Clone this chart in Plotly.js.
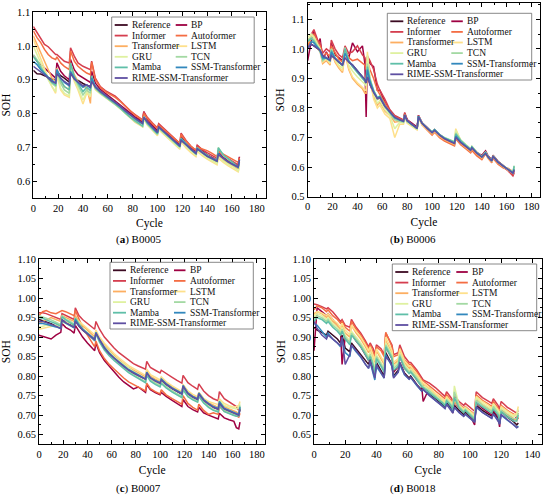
<!DOCTYPE html>
<html>
<head>
<meta charset="utf-8">
<script src="https://cdn.plot.ly/plotly-3.0.1.min.js"></script>
<style>html,body{margin:0;padding:0;background:#fff;}#chart{width:550px;height:498px;}</style>
</head>
<body>
<div id="chart"></div>
<script>
// ---------- names / colours ----------
const seriesNames = ["Reference","BP","Informer","Autoformer","Transformer","LSTM","GRU","TCN","Mamba","SSM-Transformer","RIME-SSM-Transformer"];
const seriesColors = ["#3b0a22","#9e0142","#d53e4f","#f46d43","#fdae61","#fee08b","#dff1a0","#a3d9a3","#5fbfa8","#3288bd","#5e4fa2"];
const panelTitles = ["(<b>a</b>) B0005","(<b>b</b>) B0006","(<b>c</b>) B0007","(<b>d</b>) B0018"];
const xTickVals = [0,20,40,60,80,100,120,140,160,180];

// ---------- (a) B0005 ----------
const cyclesA = [0,3,6,9,12,15,18,19,22,25,29,30,33,36,40,43,46,47,50,54,58,62,66,70,74,78,82,86,88,89,92,96,100,101,105,110,114,118,119,123,127,131,132,136,140,144,148,149,153,157,161,165,166];
const a_Reference = [.928,.918,.917,.912,.907,.902,.900,.925,.912,.905,.893,.918,.905,.897,.889,.884,.880,.898,.880,.866,.855,.845,.833,.822,.810,.797,.787,.777,.772,.790,.775,.760,.745,.762,.748,.732,.718,.705,.722,.708,.695,.683,.697,.685,.675,.668,.660,.680,.668,.658,.650,.643,.665];
const a_BP = [.972,.955,.945,.935,.925,.915,.905,.950,.925,.912,.900,.960,.930,.915,.905,.900,.892,.925,.890,.872,.860,.850,.838,.826,.814,.800,.790,.782,.776,.806,.782,.765,.750,.768,.752,.736,.722,.708,.732,.712,.698,.686,.705,.690,.678,.670,.662,.684,.670,.660,.652,.646,.672];
const a_Informer = [1.058,1.040,1.025,1.005,.998,.985,.975,.975,.965,.955,.950,.995,.970,.950,.940,.935,.930,.955,.905,.880,.868,.860,.852,.838,.823,.808,.797,.787,.781,.805,.788,.772,.757,.770,.756,.740,.726,.712,.742,.720,.703,.690,.706,.693,.684,.676,.667,.690,.676,.666,.657,.648,.670];
const a_Autoformer = [1.045,1.025,1.010,.990,.975,.965,.960,.968,.950,.940,.930,.985,.955,.940,.928,.920,.915,.952,.900,.878,.865,.857,.848,.836,.822,.807,.795,.785,.779,.800,.785,.770,.755,.766,.752,.737,.724,.712,.738,.718,.703,.692,.700,.695,.690,.682,.672,.688,.680,.672,.665,.655,.668];
const a_Transformer = [1.030,1.005,.975,.955,.925,.905,.895,.935,.895,.880,.870,.950,.915,.895,.880,.878,.830,.900,.875,.862,.852,.843,.832,.820,.806,.792,.782,.773,.768,.792,.770,.756,.742,.760,.745,.728,.714,.702,.725,.705,.690,.678,.695,.682,.670,.662,.655,.675,.662,.652,.645,.636,.655];
const a_LSTM = [1.020,.990,.960,.930,.905,.880,.860,.915,.870,.855,.848,.935,.895,.870,.828,.860,.850,.900,.870,.858,.848,.838,.826,.814,.800,.786,.774,.765,.760,.783,.765,.750,.734,.752,.738,.720,.705,.694,.716,.698,.684,.672,.688,.675,.665,.656,.648,.668,.655,.645,.637,.627,.640];
const a_GRU = [1.000,.975,.950,.920,.900,.880,.865,.920,.875,.860,.852,.940,.900,.875,.840,.865,.852,.905,.872,.860,.849,.839,.828,.816,.802,.788,.777,.767,.762,.786,.767,.752,.737,.755,.740,.723,.709,.697,.720,.702,.688,.676,.692,.679,.668,.660,.652,.672,.659,.649,.641,.630,.645];
const a_TCN = [.975,.960,.940,.920,.905,.890,.880,.925,.890,.870,.860,.945,.905,.885,.855,.870,.860,.910,.874,.860,.849,.838,.827,.815,.801,.787,.776,.767,.762,.788,.768,.753,.738,.757,.743,.726,.712,.700,.725,.707,.692,.680,.696,.684,.674,.666,.660,.700,.676,.664,.654,.640,.652];
const a_Mamba = [.968,.955,.935,.918,.905,.892,.885,.930,.900,.880,.870,.950,.910,.890,.865,.878,.868,.912,.876,.862,.850,.840,.829,.817,.803,.789,.778,.768,.763,.790,.770,.755,.740,.758,.745,.728,.714,.702,.727,.709,.694,.682,.698,.686,.676,.668,.662,.698,.678,.666,.656,.642,.655];
const a_SSM = [.955,.945,.930,.918,.908,.898,.890,.930,.905,.892,.882,.925,.905,.892,.878,.885,.875,.905,.880,.866,.855,.845,.833,.821,.808,.795,.784,.774,.770,.790,.773,.758,.743,.760,.746,.730,.716,.703,.724,.707,.693,.681,.696,.684,.673,.666,.658,.682,.667,.656,.648,.640,.662];
const a_RIME = [.940,.932,.925,.915,.905,.895,.890,.918,.905,.895,.885,.920,.902,.893,.882,.885,.878,.895,.878,.865,.854,.844,.832,.821,.808,.796,.786,.776,.771,.788,.774,.759,.744,.760,.747,.731,.717,.704,.720,.707,.694,.682,.695,.684,.674,.667,.659,.678,.667,.657,.649,.642,.663];

// ---------- (b) B0006 ----------
const cyclesB = [0,3,5,8,10,12,15,18,19,22,25,28,30,33,36,40,44,46,47,48,50,53,56,58,62,66,70,74,77,78,80,84,88,89,92,96,100,102,106,110,114,118,119,123,127,131,132,136,140,143,145,148,149,153,157,161,165,166];
const b_Reference = [1.005,1.015,1.01,1.0,.995,.975,.968,.96,.98,.965,.955,.945,.975,.955,.945,.925,.905,.895,.880,.915,.880,.850,.830,.835,.805,.785,.768,.760,.755,.778,.758,.745,.732,.772,.748,.732,.716,.725,.708,.696,.688,.680,.702,.683,.670,.657,.666,.648,.635,.648,.635,.622,.638,.618,.605,.593,.580,.592];
const b_BP = [.96,1.03,1.06,1.0,1.035,.96,.99,.96,1.02,.98,.97,.96,1.0,.97,1.02,.99,1.01,.95,.77,.97,.95,.94,.86,.86,.82,.79,.772,.765,.758,.782,.76,.748,.735,.775,.75,.735,.718,.727,.71,.698,.69,.682,.705,.685,.672,.66,.668,.65,.64,.655,.638,.625,.64,.62,.606,.592,.575,.586];
const b_Informer = [1.0,1.05,1.065,1.03,1.02,.985,1.0,.99,1.03,1.0,.98,.97,1.01,.985,.99,1.01,.98,.97,.95,.975,.96,.93,.88,.86,.83,.795,.775,.765,.76,.785,.76,.745,.732,.775,.748,.73,.712,.722,.705,.692,.684,.676,.7,.68,.665,.652,.66,.642,.628,.652,.635,.62,.635,.615,.6,.588,.57,.58];
const b_Autoformer = [1.01,1.04,1.05,1.02,1.01,.975,.985,.975,1.01,.985,.965,.955,.995,.97,.96,.965,.95,.945,.93,.96,.93,.9,.86,.845,.815,.788,.77,.762,.756,.78,.755,.742,.728,.77,.744,.726,.708,.718,.7,.688,.68,.672,.696,.676,.662,.648,.656,.638,.625,.645,.63,.615,.63,.61,.598,.596,.585,.59];
const b_Transformer = [1.02,1.035,1.03,1.0,.99,.95,.96,.945,.99,.955,.935,.92,.985,.93,.9,.88,.865,.85,.85,.93,.89,.84,.81,.82,.79,.775,.752,.755,.75,.775,.752,.74,.727,.768,.742,.727,.712,.72,.703,.692,.684,.676,.7,.68,.666,.653,.662,.644,.63,.646,.632,.618,.634,.614,.602,.59,.578,.59];
const b_LSTM = [1.03,1.045,1.04,1.01,1.0,.955,.965,.95,.995,.96,.94,.925,.99,.935,.905,.885,.87,.86,.86,.99,.9,.83,.80,.81,.78,.765,.70,.745,.745,.77,.748,.738,.726,.77,.745,.73,.716,.724,.707,.697,.69,.684,.73,.69,.674,.66,.668,.648,.633,.648,.632,.62,.636,.616,.603,.592,.58,.6];
const b_GRU = [1.04,1.05,1.04,1.015,1.0,.96,.97,.955,1.0,.965,.945,.935,.995,.945,.925,.905,.89,.88,.875,.98,.905,.85,.815,.825,.795,.775,.73,.752,.75,.775,.752,.74,.728,.772,.747,.732,.718,.726,.709,.699,.692,.686,.725,.692,.676,.662,.67,.65,.635,.65,.635,.622,.638,.618,.605,.594,.582,.602];
const b_TCN = [1.03,1.04,1.03,1.01,.995,.96,.97,.96,1.0,.97,.955,.945,1.005,.96,.94,.92,.9,.89,.885,.95,.9,.86,.83,.835,.805,.782,.76,.755,.752,.774,.754,.742,.73,.772,.748,.733,.719,.727,.71,.7,.692,.686,.716,.692,.676,.662,.67,.65,.636,.65,.636,.622,.638,.618,.605,.594,.583,.605];
const b_Mamba = [1.025,1.035,1.025,1.005,.99,.965,.97,.962,.995,.97,.955,.945,1.0,.96,.94,.92,.9,.89,.885,.94,.895,.86,.835,.84,.808,.785,.765,.758,.754,.776,.756,.743,.73,.772,.748,.733,.719,.727,.71,.699,.691,.684,.712,.69,.674,.66,.668,.648,.634,.649,.635,.621,.637,.617,.604,.593,.582,.603];
const b_SSM = [1.0,1.025,1.02,1.005,.995,.97,.968,.96,.99,.968,.955,.945,.985,.958,.945,.925,.905,.895,.885,.93,.89,.855,.833,.838,.807,.786,.768,.76,.755,.777,.757,.744,.731,.773,.748,.732,.717,.726,.709,.697,.689,.681,.705,.685,.671,.658,.667,.648,.634,.648,.634,.621,.637,.617,.604,.592,.58,.593];
const b_RIME = [1.005,1.015,1.01,1.0,.995,.978,.97,.962,.978,.965,.955,.945,.97,.955,.945,.925,.905,.895,.885,.905,.88,.852,.832,.835,.806,.785,.768,.76,.755,.775,.757,.744,.731,.77,.747,.731,.716,.724,.708,.696,.688,.68,.7,.683,.67,.657,.665,.647,.634,.646,.634,.621,.636,.617,.604,.592,.58,.59];

// ---------- (c) B0007 ----------
const cyclesC = [0,3,6,10,14,18,19,22,26,29,30,33,36,40,44,46,47,50,54,58,62,66,70,74,78,82,86,88,89,92,96,100,101,105,110,114,118,119,123,127,131,132,136,140,144,148,149,153,157,161,163,165,166];
const c_Reference = [.945,.942,.938,.934,.928,.922,.945,.938,.932,.925,.942,.928,.918,.908,.898,.893,.912,.892,.872,.857,.845,.835,.825,.815,.808,.801,.795,.792,.810,.795,.787,.781,.790,.779,.768,.760,.754,.775,.755,.746,.740,.755,.738,.728,.720,.715,.732,.716,.710,.706,.702,.700,.716];
const c_BP = [.905,.902,.898,.895,.905,.912,.935,.925,.918,.91,.93,.915,.9,.885,.87,.865,.885,.86,.84,.825,.81,.797,.785,.775,.767,.772,.762,.758,.778,.765,.758,.752,.758,.748,.738,.73,.722,.74,.722,.714,.708,.72,.706,.7,.695,.69,.705,.693,.688,.684,.668,.665,.682];
const c_Informer = [.962,.962,.96,.955,.95,.945,.96,.955,.95,.945,.975,.955,.945,.935,.925,.92,.94,.92,.9,.885,.872,.86,.85,.84,.832,.826,.82,.818,.838,.822,.815,.808,.815,.806,.797,.789,.782,.802,.783,.774,.766,.78,.762,.75,.742,.737,.76,.742,.734,.728,.722,.712,.71];
const c_Autoformer = [.955,.965,.968,.962,.96,.965,.968,.965,.96,.955,.968,.945,.925,.905,.885,.875,.89,.865,.845,.83,.818,.806,.795,.785,.778,.771,.765,.762,.782,.768,.76,.754,.765,.752,.742,.735,.728,.75,.73,.72,.713,.728,.712,.702,.706,.702,.722,.71,.704,.7,.698,.695,.705];
const c_Transformer = [.935,.94,.945,.95,.945,.94,.955,.95,.945,.94,.955,.94,.93,.918,.905,.9,.915,.898,.88,.865,.853,.842,.832,.822,.815,.808,.801,.798,.815,.8,.792,.786,.795,.784,.773,.765,.758,.778,.76,.75,.744,.758,.742,.732,.725,.72,.738,.722,.716,.712,.708,.704,.72];
const c_LSTM = [.92,.922,.925,.928,.93,.93,.94,.938,.935,.93,.945,.94,.932,.922,.912,.906,.918,.9,.884,.87,.858,.847,.837,.827,.82,.812,.806,.802,.818,.804,.797,.79,.798,.786,.775,.767,.76,.778,.762,.753,.747,.758,.743,.735,.73,.727,.742,.73,.724,.72,.722,.725,.735];
const c_GRU = [.925,.928,.93,.93,.928,.925,.94,.935,.93,.925,.94,.93,.922,.912,.9,.895,.91,.893,.876,.862,.85,.84,.83,.82,.812,.805,.798,.794,.81,.794,.786,.778,.785,.772,.762,.752,.745,.765,.748,.74,.734,.748,.732,.724,.72,.718,.738,.725,.72,.717,.716,.72,.73];
const c_TCN = [.955,.952,.948,.944,.938,.932,.955,.946,.94,.932,.95,.935,.922,.91,.898,.893,.912,.89,.87,.855,.843,.832,.822,.812,.804,.797,.79,.786,.805,.79,.782,.775,.784,.773,.762,.754,.748,.768,.75,.742,.736,.752,.734,.722,.714,.71,.728,.712,.706,.702,.7,.702,.725];
const c_Mamba = [.95,.948,.944,.94,.934,.928,.952,.944,.937,.93,.948,.932,.92,.908,.895,.89,.908,.887,.867,.852,.84,.829,.819,.809,.801,.794,.787,.783,.802,.787,.779,.772,.781,.77,.759,.751,.745,.765,.747,.739,.733,.748,.731,.72,.712,.708,.725,.709,.703,.699,.697,.698,.722];
const c_SSM = [.935,.935,.933,.93,.926,.922,.942,.936,.93,.924,.945,.93,.92,.91,.9,.895,.912,.893,.874,.859,.847,.837,.827,.817,.81,.803,.797,.793,.81,.796,.789,.783,.793,.781,.77,.762,.756,.776,.757,.748,.742,.757,.74,.73,.722,.717,.735,.718,.712,.708,.704,.702,.72];
const c_RIME = [.94,.94,.937,.933,.928,.922,.944,.937,.931,.925,.94,.928,.918,.908,.898,.893,.91,.892,.872,.857,.845,.835,.825,.815,.808,.801,.795,.792,.808,.795,.787,.781,.79,.779,.768,.76,.754,.774,.755,.746,.74,.754,.738,.728,.72,.715,.73,.716,.71,.706,.702,.7,.714];

// ---------- (d) B0018 ----------
const cyclesD = [0,2,5,8,9,12,15,17,18,20,23,24,27,30,33,35,36,38,39,40,43,45,46,49,50,51,54,55,58,61,62,66,69,70,74,78,82,84,85,88,89,90,93,96,97,100,103,104,108,112,114,115,118,119,120,124,128,130,131];
const d_Reference = [.925,.918,.912,.905,.915,.905,.895,.885,.905,.872,.862,.885,.87,.855,.84,.83,.845,.815,.80,.835,.815,.80,.86,.84,.83,.80,.815,.835,.808,.795,.80,.778,.765,.775,.755,.742,.73,.722,.732,.718,.712,.725,.712,.702,.708,.697,.688,.725,.712,.702,.698,.708,.692,.685,.71,.695,.683,.675,.68];
const d_BP = [.865,.975,.965,.955,.96,.945,.93,.915,.83,.9,.885,.91,.89,.875,.855,.84,.86,.825,.81,.85,.83,.815,.875,.855,.845,.81,.825,.85,.82,.81,.815,.79,.775,.735,.77,.752,.738,.73,.74,.724,.705,.735,.718,.708,.715,.7,.675,.732,.718,.705,.7,.712,.695,.67,.715,.7,.688,.695,.69];
const d_Informer = [.985,.983,.978,.972,.975,.965,.95,.94,.945,.93,.925,.945,.925,.91,.89,.875,.885,.87,.855,.88,.87,.855,.91,.89,.88,.855,.86,.88,.85,.835,.835,.815,.795,.79,.782,.77,.755,.748,.76,.744,.735,.75,.735,.725,.73,.72,.71,.76,.745,.735,.73,.742,.725,.715,.735,.72,.71,.705,.712];
const d_Autoformer = [.97,.98,.975,.965,.97,.955,.945,.935,.94,.925,.915,.94,.92,.905,.885,.87,.88,.862,.85,.875,.865,.85,.912,.885,.875,.85,.855,.872,.842,.83,.83,.81,.79,.788,.775,.762,.75,.742,.752,.737,.728,.742,.728,.718,.722,.712,.702,.752,.738,.728,.722,.735,.718,.705,.725,.712,.702,.698,.705];
const d_Transformer = [.96,.965,.96,.95,.955,.94,.93,.92,.93,.91,.9,.93,.91,.895,.875,.86,.87,.85,.835,.865,.845,.83,.89,.87,.86,.83,.84,.865,.835,.82,.822,.8,.782,.78,.768,.752,.74,.732,.745,.73,.72,.735,.72,.71,.715,.705,.694,.742,.728,.718,.712,.725,.708,.696,.716,.703,.692,.686,.695];
const d_LSTM = [.955,.965,.962,.955,.96,.945,.935,.925,.935,.918,.905,.93,.915,.9,.88,.865,.875,.855,.84,.87,.85,.835,.9,.875,.865,.835,.845,.87,.84,.825,.825,.805,.788,.782,.77,.755,.743,.735,.748,.734,.725,.74,.726,.716,.72,.71,.7,.748,.735,.725,.718,.73,.714,.702,.722,.71,.7,.705,.722];
const d_GRU = [.95,.96,.955,.945,.95,.935,.925,.915,.925,.905,.89,.915,.9,.885,.865,.85,.862,.84,.815,.855,.835,.82,.885,.865,.855,.825,.835,.86,.83,.815,.818,.798,.78,.775,.765,.75,.738,.73,.742,.73,.72,.775,.725,.712,.718,.706,.696,.745,.73,.72,.714,.728,.71,.698,.718,.706,.696,.7,.715];
const d_TCN = [.945,.955,.95,.94,.945,.93,.92,.91,.92,.9,.885,.91,.895,.88,.86,.845,.855,.83,.805,.85,.83,.815,.88,.86,.85,.82,.83,.855,.825,.81,.814,.795,.777,.772,.762,.748,.735,.727,.74,.727,.717,.76,.722,.71,.715,.703,.692,.738,.725,.715,.71,.722,.705,.692,.712,.7,.69,.692,.705];
const d_Mamba = [.94,.95,.945,.935,.94,.925,.915,.905,.915,.895,.88,.905,.89,.875,.855,.84,.85,.825,.80,.845,.825,.81,.875,.855,.845,.815,.825,.85,.82,.806,.81,.79,.772,.77,.758,.745,.732,.724,.736,.723,.714,.745,.718,.706,.712,.7,.688,.732,.72,.71,.705,.716,.7,.686,.708,.695,.685,.685,.7];
const d_SSM = [.935,.93,.915,.9,.91,.895,.885,.875,.895,.86,.85,.878,.862,.848,.83,.82,.835,.805,.79,.825,.808,.795,.855,.835,.825,.798,.81,.83,.803,.792,.796,.775,.762,.765,.75,.737,.725,.717,.728,.714,.706,.72,.707,.697,.702,.691,.682,.72,.707,.697,.692,.703,.687,.677,.7,.687,.676,.668,.672];
const d_RIME = [.94,.922,.905,.895,.905,.895,.885,.878,.9,.83,.855,.88,.865,.85,.83,.82,.84,.805,.795,.83,.81,.795,.85,.835,.825,.795,.81,.835,.805,.792,.797,.776,.762,.766,.75,.737,.725,.717,.728,.713,.705,.72,.707,.697,.703,.692,.683,.722,.707,.697,.692,.703,.686,.678,.702,.688,.676,.668,.67];

// ---------- assemble ----------
const panels = [
  {x: cyclesA, ys: [a_Reference,a_BP,a_Informer,a_Autoformer,a_Transformer,a_LSTM,a_GRU,a_TCN,a_Mamba,a_SSM,a_RIME]},
  {x: cyclesB, ys: [b_Reference,b_BP,b_Informer,b_Autoformer,b_Transformer,b_LSTM,b_GRU,b_TCN,b_Mamba,b_SSM,b_RIME]},
  {x: cyclesC, ys: [c_Reference,c_BP,c_Informer,c_Autoformer,c_Transformer,c_LSTM,c_GRU,c_TCN,c_Mamba,c_SSM,c_RIME]},
  {x: cyclesD, ys: [d_Reference,d_BP,d_Informer,d_Autoformer,d_Transformer,d_LSTM,d_GRU,d_TCN,d_Mamba,d_SSM,d_RIME]}
];

const W = 550, H = 498;
const fx = p => p / W;
const fy = p => 1 - p / H;
const FONT = '"Liberation Serif", serif';

// panel frames in page pixels: left, right, top, bottom
const frames = [
  {l:33.3, r:265.5, t:12.3, b:197.9, xr:[0,187], yr:[0.55,1.1], dy:0.1, fmt:'.1f', mdy:0.05},
  {l:307.7, r:540.3, t:3.3, b:196.7, xr:[0,187], yr:[0.5,1.154], dy:0.1, fmt:'.1f', mdy:0.05},
  {l:39, r:265.4, t:259, b:444.4, xr:[0,187], yr:[0.625,1.10], dy:0.05, fmt:'.2f', mdy:0.025},
  {l:314, r:541.7, t:259, b:444.4, xr:[0,146], yr:[0.625,1.10], dy:0.05, fmt:'.2f', mdy:0.025}
];
const legendBoxes = [
  {l:111.7, t:17, w:142.5, h:66},
  {l:387.3, t:13.3, w:144.4, h:66.7},
  {l:110, t:262.3, w:143.3, h:66.7},
  {l:392.3, t:264, w:144.4, h:66.7}
];
const captionPos = [{x:138, y:239},{x:413, y:239},{x:138, y:488},{x:413, y:488}];

const traces = [];
const layout = {
  width: W, height: H,
  margin: {l:0, r:0, t:0, b:0},
  paper_bgcolor: '#fff', plot_bgcolor: '#fff',
  showlegend: false,
  font: {family: FONT, color: '#000'},
  shapes: [], annotations: []
};

panels.forEach((p, pi) => {
  const sfx = pi === 0 ? '' : String(pi + 1);
  const f = frames[pi];
  p.ys.forEach((y, si) => {
    traces.push({
      type: 'scatter', mode: 'lines', x: p.x, y: y,
      name: seriesNames[si],
      xaxis: 'x' + sfx, yaxis: 'y' + sfx,
      line: {color: seriesColors[si], width: 1.5},
      showlegend: false
    });
  });
  const common = {
    showline: true, linecolor: '#000', linewidth: 1, mirror: 'ticks',
    ticks: 'inside', ticklen: 4, tickwidth: 1, tickcolor: '#000',
    showgrid: false, zeroline: false, automargin: false,
    tickfont: {family: FONT, size: 10.5, color: '#000'}
  };
  layout['xaxis' + sfx] = Object.assign({}, common, {
    domain: [fx(f.l), fx(f.r)], range: f.xr, anchor: 'y' + sfx,
    tickmode: 'array', tickvals: xTickVals,
    minor: {ticks: 'inside', ticklen: 2, tickcolor: '#000', dtick: 10, tick0: 0, showgrid: false},
    title: {text: 'Cycle', font: {family: FONT, size: 11.5}, standoff: 6}
  });
  layout['yaxis' + sfx] = Object.assign({}, common, {
    domain: [fy(f.b), fy(f.t)], range: f.yr, anchor: 'x' + sfx,
    dtick: f.dy, tick0: 0, tickformat: f.fmt,
    minor: {ticks: 'inside', ticklen: 2, tickcolor: '#000', dtick: f.mdy, showgrid: false},
    title: {text: 'SOH', font: {family: FONT, size: 11.5}, standoff: 4}
  });

  // legend box (two columns, row-major as in the figure)
  const lb = legendBoxes[pi];
  layout.shapes.push({
    type: 'rect', xref: 'paper', yref: 'paper',
    x0: fx(lb.l), x1: fx(lb.l + lb.w), y0: fy(lb.t + lb.h), y1: fy(lb.t),
    fillcolor: '#fff', line: {color: '#6a6a6a', width: 0.8}, layer: 'above'
  });
  seriesNames.forEach((nm, si) => {
    const row = Math.floor(si / 2), col = si % 2;
    const cy = lb.t + 8 + row * 10.6;
    const lx0 = lb.l + (col ? 64 : 3), lx1 = lb.l + (col ? 75.5 : 16);
    layout.shapes.push({
      type: 'line', xref: 'paper', yref: 'paper',
      x0: fx(lx0), x1: fx(lx1), y0: fy(cy), y1: fy(cy),
      line: {color: seriesColors[si], width: 1.8}, layer: 'above'
    });
    layout.annotations.push({
      xref: 'paper', yref: 'paper', x: fx(lb.l + (col ? 78.5 : 19)), y: fy(cy),
      xanchor: 'left', yanchor: 'middle', showarrow: false, text: nm,
      font: {family: FONT, size: 9.5, color: '#111'}, borderpad: 0
    });
  });

  // caption
  layout.annotations.push({
    xref: 'paper', yref: 'paper', x: fx(captionPos[pi].x), y: fy(captionPos[pi].y),
    xanchor: 'center', yanchor: 'middle', showarrow: false, text: panelTitles[pi],
    font: {family: FONT, size: 11, color: '#000'}
  });
});

Plotly.newPlot('chart', traces, layout, {displayModeBar: false, staticPlot: true});
</script>
</body>
</html>
